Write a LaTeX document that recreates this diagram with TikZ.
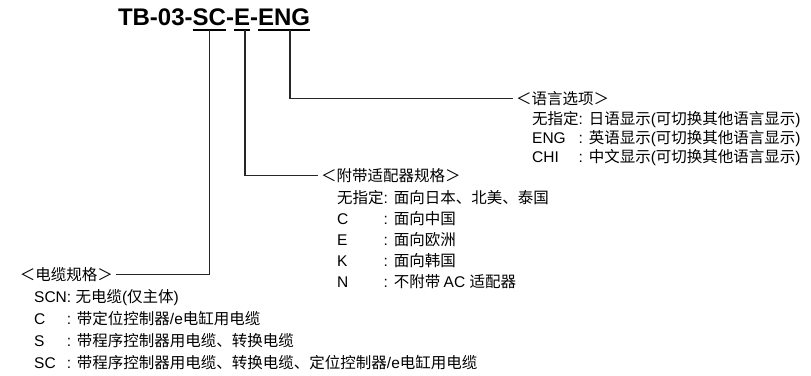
\documentclass[tikz,border=0pt]{standalone}
\usepackage{fontspec}
\setmainfont{Liberation Sans}
\newfontfamily\cjk{Noto Sans CJK SC}
% switch to the CJK font at Han characters and back at Latin ones
\newcount\hanidx
\hanidx="4E00
\loop
  \XeTeXcharclass\hanidx=1
  \advance\hanidx by 1
\ifnum\hanidx<"A000 \repeat
\XeTeXcharclass"FF1C=1
\XeTeXcharclass"FF1E=1
\XeTeXcharclass"3001=1
\XeTeXinterchartokenstate=1
\XeTeXinterchartoks 0 1 = {\cjk}
\XeTeXinterchartoks 4095 1 = {\cjk}
\XeTeXinterchartoks 1 0 = {\rmfamily}
\XeTeXinterchartoks 4095 0 = {\rmfamily}

\begin{document}
\begin{tikzpicture}[x=1pt, y=-1pt,
    part/.style={inner sep=0pt, outer sep=0pt, anchor=base west,
      font=\bfseries\fontsize{24}{28}\selectfont},
    head/.style={inner ysep=0pt, inner xsep=3pt, font=\fontsize{15.5}{18}\selectfont},
    item/.style={inner sep=0pt, anchor=base west, font=\fontsize{15.5}{18}\selectfont},
    uline/.style={line width=2pt},
    link/.style={line width=1.2pt, black!85}]
    \useasboundingbox (0,0) rectangle (811,375);

    % model code
    \node[part] (tb) at (118,25.5) {TB-03-};
    \node[part] (sc) at (tb.base east) {SC};
    \node[part] (d1) at (sc.base east) {-};
    \node[part] (e) at (d1.base east) {E};
    \node[part] (d2) at (e.base east) {-};
    \node[part] (eng) at (d2.base east) {ENG};
    \draw[uline] ([yshift=-4pt]sc.south west) -- ([yshift=-4pt]sc.south east);
    \draw[uline] ([yshift=-4pt]e.south west) -- ([yshift=-4pt]e.south east);
    \draw[uline] ([yshift=-4pt]eng.south west) -- ([yshift=-4pt]eng.south east);

    % language
    \node[head, anchor=base west] (lang) at (513,104.5) {＜语言选项＞};
    \node[item] (lang1) at (532,124) {无指定: 日语显示(可切换其他语言显示)};
    \node[item] (lang2) at (532,143) {\rlap{ENG}\phantom{无指定}: 英语显示(可切换其他语言显示)};
    \node[item] (lang3) at (532,162) {\rlap{CHI}\phantom{无指定}: 中文显示(可切换其他语言显示)};

    % adapter
    \node[head, anchor=base west] (adapter) at (318,181.5) {＜附带适配器规格＞};
    \node[item] (adapter1) at (337,203) {无指定: 面向日本、北美、泰国};
    \node[item] (adapter2) at (337,224) {\rlap{C}\phantom{无指定}: 面向中国};
    \node[item] (adapter3) at (337,245) {\rlap{E}\phantom{无指定}: 面向欧洲};
    \node[item] (adapter4) at (337,266) {\rlap{K}\phantom{无指定}: 面向韩国};
    \node[item] (adapter5) at (337,287) {\rlap{N}\phantom{无指定}: 不附带 AC 适配器};

    % cable
    \node[head, anchor=base east] (cable) at (116,280) {＜电缆规格＞};
    \node[item] (cable1) at (34,302) {SCN: 无电缆(仅主体)};
    \node[item] (cable2) at (34,324) {\rlap{C}\phantom{SCN}: 带定位控制器/e电缸用电缆};
    \node[item] (cable3) at (34,346) {\rlap{S}\phantom{SCN}: 带程序控制器用电缆、转换电缆};
    \node[item] (cable4) at (34,368) {\rlap{SC}\phantom{SCN}: 带程序控制器用电缆、转换电缆、定位控制器/e电缸用电缆};

    \draw[link] ([xshift=6pt,yshift=-4pt]eng.south) |- (lang.west);
    \draw[link] ([xshift=3pt,yshift=-4pt]e.south) |- (adapter.west);
    \draw[link] ([yshift=-4pt]sc.south) |- (cable.east);
\end{tikzpicture}
\end{document}
